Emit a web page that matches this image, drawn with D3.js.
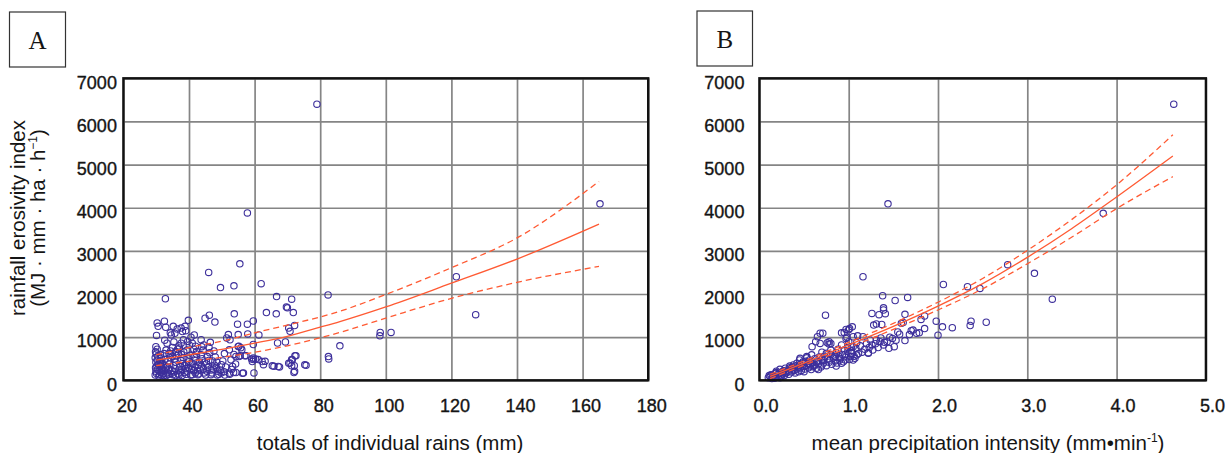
<!DOCTYPE html>
<html>
<head>
<meta charset="utf-8">
<script src="https://cdn.jsdelivr.net/npm/d3@7"></script>
<style>
  html, body { margin: 0; padding: 0; background: #fff; }
  svg { display: block; }
  text { font-family: "Liberation Sans", Arial, Helvetica, sans-serif; fill: #151515; }
</style>
</head>
<body>
<svg id="chart" width="1232" height="453"></svg>
<script>
// ---------- data ----------
const yTicks = [0, 1000, 2000, 3000, 4000, 5000, 6000, 7000];
const xTicksA = [20, 40, 60, 80, 100, 120, 140, 160, 180];
const xTicksB = [0, 1, 2, 3, 4, 5];

const titleYLine1 = "rainfall erosivity index";
const titleXA = "totals of individual rains (mm)";
const titleXB = "mean precipitation intensity (mm\u2022min";

// Panel A: [rain total (mm), EI]
const pointsA = [
  [79,6400],[57.8,3880],[55.5,2700],[46,2500],[49.6,2150],[53.7,2190],[62,2240],[32.8,1890],
  [66.7,1940],[71.3,1880],[82.4,1980],[69.7,1700],[70,1680],[53.8,1540],[63.6,1570],[66.6,1540],
  [71.8,1570],[46.2,1510],[44.9,1440],[47.9,1350],[39.8,1390],[59.6,1375],[57.8,1300],[54.8,1300],
  [72.2,1270],[70.4,1210],[70.8,1135],[52,1060],[55,1060],[57.9,1075],[61.3,1050],[52.5,940],
  [82.5,550],[82.6,495],[86,800],[98.3,1110],[98.2,1030],[101.6,1110],[67,865],[69.4,890],
  [59.6,830],[55.2,790],[55.8,757],[57.4,570],[55.6,570],[59.6,517],[59.7,480],[61.1,480],
  [63.2,440],[62.7,363],[65.9,324],[67.6,309],[70.8,400],[71.3,480],[72.6,570],[72.1,340],
  [72.2,208],[75.7,347],[59.8,170],[56.6,170],[165.3,4090],[121.5,2400],[127.4,1520],
  [55.2,552],[57,568],[59.1,491],[59.3,436],[60.3,491],[62.3,436],[65.4,336],[67.2,320],
  [70.4,398],[71.5,475],[72.3,568],[75.3,359],[71.3,336],[72,181],[56.3,166],[54.3,181],
  [52.3,166],[53.3,320],[52.8,475],[54.3,552],[52.3,707],[56.1,707],[55,784],
  [29.7,120],[30.1,160],[29.9,210],[30.4,250],[29.8,290],[30.2,330],[30.6,370],[29.9,420],
  [30.3,470],[29.7,520],[30.5,560],[30.0,610],[29.8,660],[30.3,720],[29.9,780],[30.1,1040],
  [30.6,1250],[30.3,1330],
  [31.0,130],[31.4,180],[30.9,230],[31.6,280],[31.2,340],[31.8,400],[31.1,450],[31.5,520],
  [31.3,590],[32.2,150],[32.5,220],[31.9,260],[32.8,300],[32.1,360],[32.4,620],[32.6,930],
  [32.9,1230],[32.5,1370],
  [33.1,110],[33.5,170],[33.8,240],[33.2,310],[34.0,380],[33.6,450],[34.2,520],[33.9,620],
  [34.4,680],[33.3,860],[34.6,1050],[34.3,1100],[35.2,1250],
  [35.1,130],[35.5,200],[35.8,270],[35.3,340],[36.0,420],[35.6,500],[36.2,570],[35.9,660],
  [36.5,720],[35.4,890],[35.7,1090],[36.4,1190],
  [37.0,120],[37.4,190],[37.8,250],[37.2,320],[38.0,390],[37.5,460],[38.2,530],[37.7,600],
  [38.4,660],[37.1,750],[37.6,860],[38.3,940],[38.0,1130],[37.6,1210],[38.8,1250],[39.0,1150],
  [39.1,140],[39.5,210],[39.9,290],[39.3,360],[40.0,430],[39.7,510],[40.3,580],[39.4,700],
  [40.1,820],[39.6,900],[40.6,1000],
  [41.0,130],[41.4,220],[41.8,300],[41.2,380],[42.0,460],[41.6,540],[42.3,610],[41.5,720],
  [41.6,1050],[42.3,670],
  [43.0,150],[43.4,240],[43.8,330],[43.2,420],[44.0,500],[43.7,590],[44.3,700],[43.9,780],
  [43.7,940],[44.5,820],
  [45.1,120],[45.5,210],[45.8,300],[45.3,380],[46.0,460],[45.6,550],[46.3,640],[46.1,760],
  [46.5,880],
  [47.0,170],[47.4,260],[47.8,350],[47.2,450],[48.0,540],[47.6,680],[48.3,300],
  [49.1,140],[49.5,240],[49.9,360],[50.3,450],[50.7,200],[51.2,310],[50.8,620],[51.5,980],
  [52.4,140],[53.0,250],[53.6,180],[54.2,380],[53.7,600],
  [30.8,100],[31.7,120],[32.3,110],[33.7,140],[34.6,160],[35.9,110],[36.7,150],[37.9,110],
  [38.7,180],[40.5,120],[41.9,170],[42.7,130],[44.6,170],[46.7,130],[48.6,120],[49.8,170],
  [50.9,120],[34.8,230],[36.9,240],[38.9,270],[40.8,250],[42.6,220],[44.4,260],[46.8,240],
  [48.8,210],[31.3,410],[32.7,480],[34.9,560],[36.8,610],[38.6,350],[40.7,390],[42.8,350],
  [44.7,420],[48.5,420],[33.0,700],[35.0,760],[36.9,800],[41.0,860],[42.0,790]
];

// Panel A fitted curve and confidence band
const fitA =   [[30,470],[40,590],[52.5,750],[60,860],[70,1020],[80,1230],[86,1360],[100,1700],[120,2250],[140,2810],[165,3620]];
const upperA = [[30,590],[40,760],[52.5,950],[60,1100],[70,1280],[86,1600],[100,1990],[120,2610],[140,3300],[165,4610]];
const lowerA = [[30,340],[40,440],[52.5,560],[60,650],[70,800],[86,1110],[100,1440],[120,1900],[140,2270],[165,2640]];

// Panel B: [mean intensity (mm/min), EI]
const pointsB = [
  [4.64,6400],[3.85,3870],[2.78,2680],[3.08,2480],[3.28,1880],[2.06,2220],[2.33,2170],[2.47,2130],
  [1.66,1920],[1.63,1530],[1.59,1320],[1.81,1410],[1.85,1490],[1.98,1370],[2.05,1240],[2.16,1220],
  [2.37,1370],[2.36,1270],[2.54,1345],[2.0,1045],[1.72,1165],[1.76,1090],[1.79,1100],[1.85,1200],
  [1.63,920],[1.44,4090],[1.16,2400],[1.38,1960],[1.52,1850],[0.74,1510],[1.26,1550],[1.34,1520],
  [1.39,1680],[1.39,1630],[1.41,1545],[1.61,1340],[1.31,1305],[1.37,1295],[1.28,1280],[0.68,1090],
  [0.71,1090],[0.65,1010],[0.59,780],[0.76,870],[0.78,840],[0.95,1110],[1.0,1170],[1.04,1240],
  [0.98,1000],[1.05,1010],[1.1,1030],[1.16,1010],[1.22,640],[1.22,625],[1.39,820],[1.45,740],
  [1.51,780],[1.43,895],[1.49,970],[1.57,1070],[1.24,935],[1.26,820],[1.35,895],[1.31,935],
  [1.09,870],[1.05,780],[1.03,625],[1.09,585],[1.07,510],[0.63,895],[0.78,895],[0.8,855],
  [0.92,1100],[0.97,1180],[1.01,1200],[0.97,970],[1.0,895],[1.03,780],[0.99,665],[1.02,550],
  [1.05,470],[0.68,855],[0.75,625],[0.79,470],[0.85,550],[0.9,510],[0.92,395],[0.96,470],
  [0.585,590],[0.53,550],[0.455,510],[0.49,430],[0.42,395],[0.38,355],[0.34,330],[0.29,280],
  [0.23,255],[0.175,160],[0.15,85],[0.19,180],[0.55,395],[0.64,430],[0.6,315],[0.7,355],
  [0.1,60],[0.12,90],[0.14,40],[0.16,110],[0.18,70],[0.2,130],[0.21,90],[0.22,160],
  [0.24,120],[0.25,190],[0.26,150],[0.27,220],[0.28,110],[0.3,170],[0.31,240],[0.32,200],
  [0.33,140],[0.35,260],[0.36,190],[0.37,300],[0.39,230],[0.4,170],[0.41,330],[0.42,260],
  [0.44,200],[0.45,360],[0.46,290],[0.47,230],[0.48,400],[0.5,320],[0.51,260],[0.52,440],
  [0.53,350],[0.55,290],[0.56,470],[0.57,380],[0.58,250],[0.6,420],[0.61,340],[0.62,500],
  [0.64,280],[0.65,450],[0.66,380],[0.67,540],[0.69,310],[0.7,480],[0.72,400],[0.73,560],
  [0.75,340],[0.76,500],[0.78,420],[0.8,600],[0.81,370],[0.83,520],[0.85,450],[0.86,640],
  [0.87,400],[0.89,560],[0.9,470],[0.93,600],[0.94,430],[0.95,700],[0.97,540],[0.99,760],
  [1.01,480],[1.03,690],[1.06,560],[1.08,740],[1.11,620],[1.13,800],[1.15,650],[1.18,720],
  [1.2,850],[1.23,760],[1.27,700],[1.3,850],[1.33,760],[1.36,980],[1.4,880],[1.46,1000],
  [1.53,930],[1.55,1120],[1.68,1060],[1.7,1150],[0.45,470],[0.53,520],[0.38,250],[0.29,190],
  [0.25,100],[0.34,290],[0.43,300],[0.5,200],[0.62,360],[0.66,250],[0.57,330],[0.72,460],
  [0.84,560],[0.88,720],[0.92,820],[0.96,600],[0.7,650],[0.8,700],[0.86,330],[0.13,130],
  [0.17,50],[0.11,110],[0.23,60],[0.19,210]
];

// Panel B fitted curve and confidence band
const fitB =   [[0.12,90],[0.5,400],[1.0,820],[1.5,1250],[2.0,1720],[2.5,2240],[3.0,2850],[3.5,3520],[4.0,4250],[4.63,5200]];
const upperB = [[0.12,140],[0.5,450],[1.0,880],[1.5,1320],[2.0,1810],[2.5,2360],[3.0,3010],[3.5,3730],[4.0,4530],[4.63,5690]];
const lowerB = [[0.12,40],[0.5,350],[1.0,760],[1.5,1180],[2.0,1630],[2.5,2120],[3.0,2700],[3.5,3320],[4.0,3980],[4.63,4720]];

// ---------- drawing ----------
const svg = d3.select("#chart");
const plotTop = 78.3, plotBottom = 380.3;
const circleColor = "#3d2f9b";
const lineColor = "#ff5a33";
const gridColor = "#858585";

const yScale = d3.scaleLinear().domain([0, 7000]).range([plotBottom, plotTop]);

function styleLabels(s) {
  s.selectAll("text").attr("font-size", 18)
    .attr("font-family", "'Liberation Sans', Arial, sans-serif")
    .attr("fill", "#111").attr("stroke", "#111").attr("stroke-width", 0.35);
}

function panel(opts) {
  const { x, xTicks, fmt, points, fit, upper, lower, yLabelGap, xLabelDx } = opts;
  const [x0, x1] = x.range();
  const g = svg.append("g");

  // grid
  g.append("g")
    .attr("transform", `translate(0,${plotBottom})`)
    .call(d3.axisBottom(x).tickValues(xTicks).tickSize(-(plotBottom - plotTop)).tickFormat(""))
    .call(s => s.select(".domain").remove())
    .call(s => s.selectAll("line").attr("stroke", gridColor).attr("stroke-width", 1.7));
  g.append("g")
    .attr("transform", `translate(${x0},0)`)
    .call(d3.axisLeft(yScale).tickValues(yTicks).tickSize(-(x1 - x0)).tickFormat(""))
    .call(s => s.select(".domain").remove())
    .call(s => s.selectAll("line").attr("stroke", gridColor).attr("stroke-width", 1.7));

  // points
  g.append("g").selectAll("circle").data(points).join("circle")
    .attr("cx", d => x(d[0])).attr("cy", d => yScale(d[1])).attr("r", 3.2)
    .attr("fill", "none").attr("stroke", circleColor).attr("stroke-width", 1.1);

  // fit lines
  const line = d3.line().x(d => x(d[0])).y(d => yScale(d[1])).curve(d3.curveMonotoneX);
  g.append("path").attr("d", line(fit)).attr("fill", "none")
    .attr("stroke", lineColor).attr("stroke-width", 1.3);
  [upper, lower].forEach(arr => {
    g.append("path").attr("d", line(arr)).attr("fill", "none")
      .attr("stroke", lineColor).attr("stroke-width", 1.3).attr("stroke-dasharray", "6,4");
  });

  // frame
  g.append("rect").attr("x", x0).attr("y", plotTop).attr("width", x1 - x0).attr("height", plotBottom - plotTop)
    .attr("fill", "none").attr("stroke", "#111").attr("stroke-width", 2.4);

  // tick labels
  g.append("g")
    .attr("transform", `translate(0,${plotBottom})`)
    .call(d3.axisBottom(x).tickValues(xTicks).tickSize(0).tickPadding(19).tickFormat(fmt))
    .call(s => s.select(".domain").remove())
    .call(styleLabels)
    .call(s => s.selectAll("text").attr("dx", xLabelDx));
  g.append("g")
    .attr("transform", `translate(${x0},4)`)
    .call(d3.axisLeft(yScale).tickValues(yTicks).tickSize(0).tickPadding(yLabelGap).tickFormat(d3.format("d")))
    .call(s => s.select(".domain").remove())
    .call(styleLabels);
  return g;
}

const xA = d3.scaleLinear().domain([20, 180]).range([123.4, 648.2]);
const xB = d3.scaleLinear().domain([0, 5]).range([759.4, 1205.9]);

panel({ x: xA, xTicks: xTicksA, fmt: d3.format("d"), points: pointsA, fit: fitA, upper: upperA, lower: lowerA, yLabelGap: 6.5, xLabelDx: 3 });
panel({ x: xB, xTicks: xTicksB, fmt: d3.format(".1f"), points: pointsB, fit: fitB, upper: upperB, lower: lowerB, yLabelGap: 15, xLabelDx: 6 });

// panel letter boxes
function letterBox(x, yy, w, h, label) {
  svg.append("rect").attr("x", x).attr("y", yy).attr("width", w).attr("height", h)
    .attr("fill", "none").attr("stroke", "#333").attr("stroke-width", 1.2);
  svg.append("text").attr("x", x + w / 2).attr("y", yy + h / 2 + 9)
    .attr("text-anchor", "middle").attr("font-size", 25)
    .style("font-family", "'Liberation Serif', 'Times New Roman', serif").text(label);
}
letterBox(9.5, 12, 56, 55, "A");
letterBox(697, 11, 55.5, 55, "B");

// axis titles
svg.append("text").attr("x", 390).attr("y", 450).attr("text-anchor", "middle")
  .attr("font-size", 20.5).text(titleXA);
const tb = svg.append("text").attr("x", 988).attr("y", 450).attr("text-anchor", "middle")
  .attr("font-size", 20.5);
tb.append("tspan").text(titleXB);
tb.append("tspan").attr("font-size", 12).attr("dy", -8).text("-1");
tb.append("tspan").attr("dy", 8).text(")");

const yt = svg.append("g").attr("transform", "translate(0,218) rotate(-90)");
yt.append("text").attr("x", 0).attr("y", 25).attr("text-anchor", "middle")
  .attr("font-size", 20.5).text(titleYLine1);
const yt2 = yt.append("text").attr("x", 0).attr("y", 45).attr("text-anchor", "middle")
  .attr("font-size", 20.5);
yt2.append("tspan").text("(MJ \u00b7 mm \u00b7 ha \u00b7 h");
yt2.append("tspan").attr("font-size", 12).attr("dy", -8).text("\u22121");
yt2.append("tspan").attr("dy", 8).text(")");
</script>
</body>
</html>
